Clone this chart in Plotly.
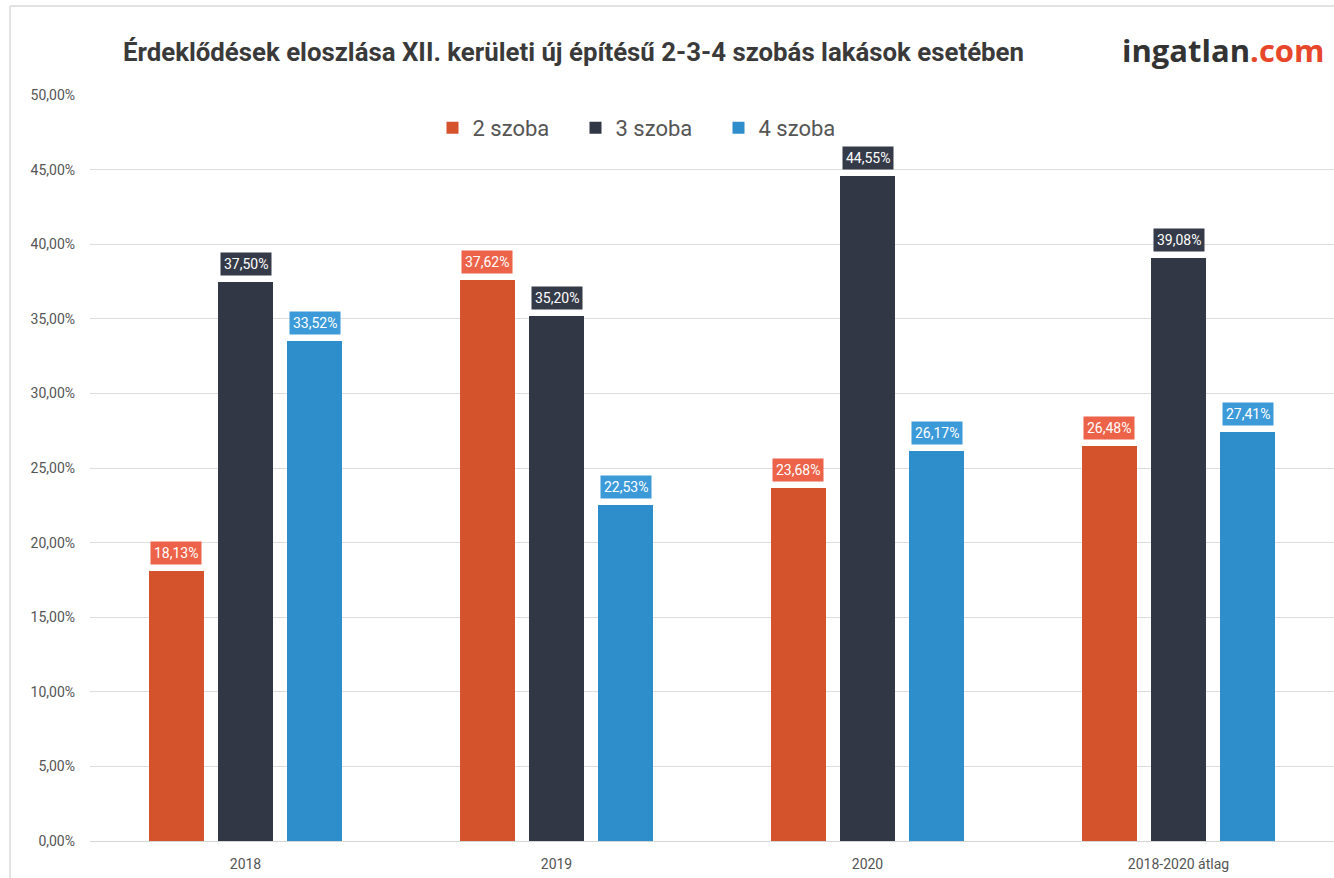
import plotly.graph_objects as go

categories = ["2018", "2019", "2020", "2018-2020 átlag"]
series_names = ["2 szoba", "3 szoba", "4 szoba"]
szoba2 = [18.13, 37.62, 23.68, 26.48]
szoba3 = [37.50, 35.20, 44.55, 39.08]
szoba4 = [33.52, 22.53, 26.17, 27.41]
y_ticks = [0, 5, 10, 15, 20, 25, 30, 35, 40, 45, 50]

bar_colors = ["#D4522C", "#323745", "#2E8ECC"]
label_colors = ["#EC6349", "#353A48", "#3C9AD8"]
offsets = [-0.222, 0.0, 0.222]
bar_width = 0.174

W, H = 1334, 878
ML, MR, MT, MB = 90, 0, 95, 37


def hu(v):
    return f"{v:.2f}".replace(".", ",") + "%"


fig = go.Figure()
for name, vals, col, lcol, off in zip(series_names, [szoba2, szoba3, szoba4],
                                      bar_colors, label_colors, offsets):
    xs = [i + off for i in range(len(categories))]
    fig.add_trace(go.Bar(
        x=xs, y=vals, width=bar_width, name=name,
        marker=dict(color=col, line=dict(width=0)),
        hoverinfo="skip",
    ))
    for x, v in zip(xs, vals):
        fig.add_annotation(
            x=x, y=v, xref="x", yref="y", text=hu(v), showarrow=False,
            yanchor="bottom", yshift=6, bgcolor=lcol, borderpad=3,
            font=dict(family="Roboto", size=14, color="#FFFFFF"),
        )

# Title and logo
fig.add_annotation(
    x=121, y=52, xref="paper", yref="paper",
    text="<b>Érdeklődések eloszlása XII. kerületi új építésű 2-3-4 szobás lakások esetében</b>",
    showarrow=False, xanchor="left", yanchor="middle",
    font=dict(family="Roboto", size=25.8, color="#3A3A3A"),
)
fig.add_annotation(
    x=1120, y=50, xref="paper", yref="paper",
    text="<b>ingatlan<span style='color:#E8462B'>.com</span></b>",
    showarrow=False, xanchor="left", yanchor="middle",
    font=dict(family="Open Sans, Roboto", size=31, color="#333333"),
)

# convert pixel coordinates of title/logo into paper units
pw, ph = W - ML - MR, H - MT - MB
for a in fig.layout.annotations:
    if a.xref == "paper":
        a.x = (a.x - ML) / pw
        a.y = (H - MB - a.y) / ph

frame = dict(color="#D9D9D9", width=1.5)
fig.add_shape(type="line", xref="paper", yref="paper",
              x0=(10 - ML) / pw, x1=(10 - ML) / pw,
              y0=(H - MB - 6) / ph, y1=(H - MB - H) / ph, line=frame)
fig.add_shape(type="line", xref="paper", yref="paper",
              x0=(10 - ML) / pw, x1=1.01,
              y0=(H - MB - 6) / ph, y1=(H - MB - 6) / ph, line=frame)

fig.update_layout(
    width=W, height=H,
    margin=dict(l=ML, r=MR, t=MT, b=MB),
    paper_bgcolor="#FFFFFF", plot_bgcolor="#FFFFFF",
    separators=",.",
    showlegend=True,
    legend=dict(
        orientation="h", x=(647 - ML) / pw, xanchor="center",
        y=(H - MB - 128) / ph, yanchor="middle",
        font=dict(family="Roboto", size=22, color="#555555"),
        itemwidth=30, itemsizing="constant", bgcolor="rgba(0,0,0,0)",
        entrywidth=98, entrywidthmode="pixels",
    ),
    xaxis=dict(
        range=[-0.5, 3.5], tickmode="array",
        tickvals=list(range(len(categories))), ticktext=categories,
        showgrid=False, zeroline=False, showline=False,
        ticks="outside", ticklen=10, tickcolor="rgba(0,0,0,0)",
        tickfont=dict(family="Roboto", size=14, color="#555555"),
    ),
    yaxis=dict(
        range=[0, 50], tickmode="array", tickvals=y_ticks,
        ticktext=[hu(t) for t in y_ticks],
        showgrid=True, gridcolor="#DDDDDD", gridwidth=1,
        zeroline=True, zerolinecolor="#D5D5D5", zerolinewidth=1,
        showline=False, ticks="", ticklabelstandoff=14,
        tickfont=dict(family="Roboto", size=14, color="#555555"),
    ),
    bargap=0,
)

fig.write_html("out.html")
